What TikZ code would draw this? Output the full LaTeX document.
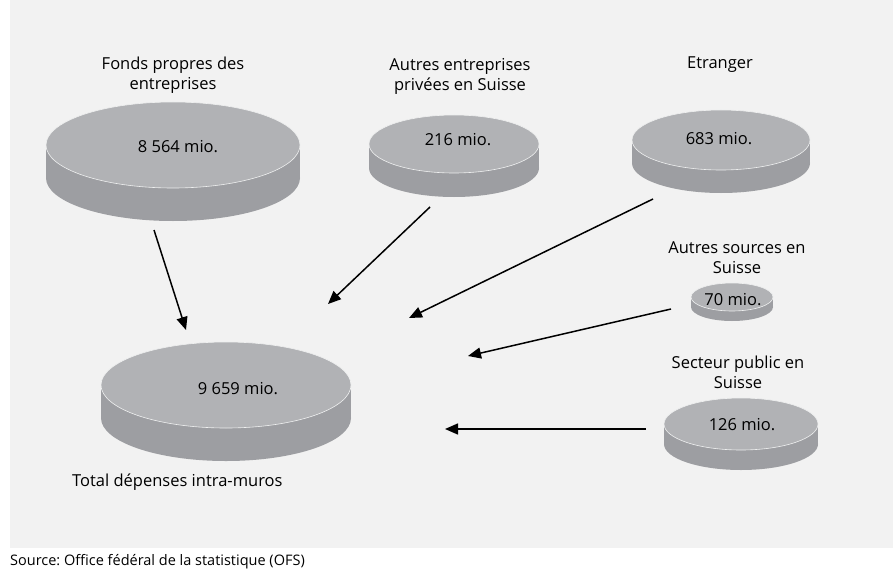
\documentclass[tikz,border=0pt]{standalone}
\usepackage{fontspec}
\setmainfont{Open Sans}
\frenchspacing
\usetikzlibrary{arrows.meta}
\definecolor{panelgrey}{HTML}{F2F2F2}
\definecolor{disktop}{HTML}{B1B2B5}
\definecolor{diskside}{HTML}{9D9EA2}

% name, x, y, x radius, y radius, height
\newcommand{\disk}[6]{%
  \fill[diskside] (#2,#3+#6) ellipse[x radius=#4,y radius=#5];
  \fill[diskside] (#2-#4,#3) rectangle (#2+#4,#3+#6);
  \fill[disktop,draw=white!80!disktop,line width=0.6pt] (#2,#3) ellipse[x radius=#4,y radius=#5];
  \coordinate (#1) at (#2,#3);}

\begin{document}
\begin{tikzpicture}[x=1pt,y=-1pt,>={Triangle[length=13pt,width=11pt]},
  flow/.style={->,line width=1.5pt},
  title node/.style={align=center,font=\fontsize{16.5}{20}\selectfont},
  value node/.style={font=\fontsize{16.5}{19}\selectfont}]
\useasboundingbox (0,0) rectangle (893,575);
\fill[panelgrey] (10,0) rectangle (893,548);

\disk{fonds}{173}{145}{127}{43}{33}
\disk{autres}{454}{144}{85}{29}{24}
\disk{etranger}{721}{140}{89}{30}{23}
\disk{sources}{732}{297}{41}{14}{10}
\disk{public}{741}{424}{77}{26}{20}
\disk{total}{226}{385}{125}{43}{33}

\node[title node] (fonds title) at (173,75) {Fonds propres des\\entreprises};
\node[title node] (autres title) at (460,76) {Autres entreprises\\privées en Suisse};
\node[title node] (etranger title) at (720,65) {Etranger};
\node[title node] (sources title) at (737,258) {Autres sources en\\Suisse};
\node[title node] (public title) at (738,372) {Secteur public en\\Suisse};
\node[title node,anchor=west,inner sep=0pt] (total title) at (72,482) {Total dépenses intra-muros};

\node[value node] (fonds value) at (178,147) {8 564 mio.};
\node[value node] (autres value) at (458,140) {216 mio.};
\node[value node] (etranger value) at (719,139) {683 mio.};
\node[value node] (sources value) at (733,300) {70 mio.};
\node[value node] (public value) at (742,425) {126 mio.};
\node[value node] (total value) at (238,389) {9 659 mio.};

\node[anchor=west,inner sep=0pt,font=\fontsize{14.5}{17}\selectfont] (source) at (10,562) {Source: Office fédéral de la statistique (OFS)};

% arrow ends
\coordinate (fonds out) at (154,230);
\coordinate (autres out) at (430,207);
\coordinate (etranger out) at (653,199);
\coordinate (sources out) at (671,309);
\coordinate (public out) at (646,429);
\coordinate (total in1) at (186,330);
\coordinate (total in2) at (328,304);
\coordinate (total in3) at (409,318);
\coordinate (total in4) at (468,356);
\coordinate (total in5) at (445,429);

\path[flow]
    (fonds out) edge (total in1)
    (autres out) edge (total in2)
    (etranger out) edge (total in3)
    (sources out) edge (total in4)
    (public out) edge (total in5)
;
\end{tikzpicture}
\end{document}
